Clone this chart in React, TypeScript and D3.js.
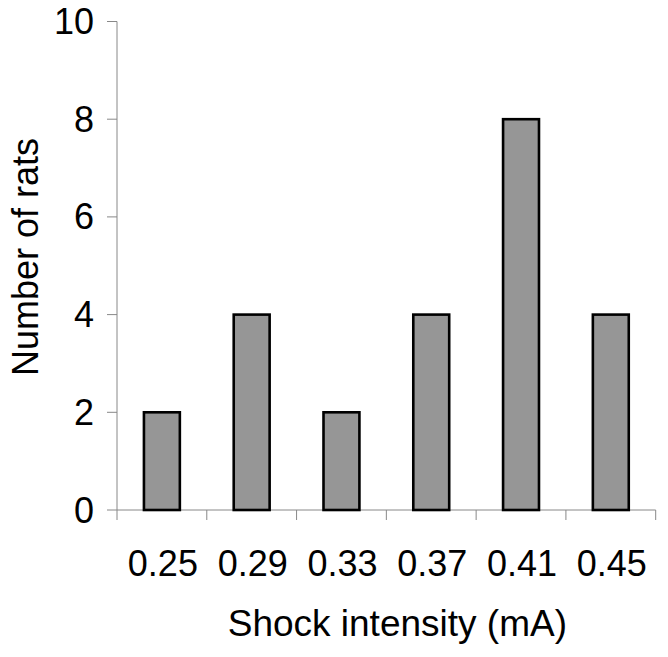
import React from "react";
import * as d3 from "d3";

const categories = ["0.25", "0.29", "0.33", "0.37", "0.41", "0.45"];
const counts = [2, 4, 2, 4, 8, 4];
const yTicks = [0, 2, 4, 6, 8, 10];

export default function App() {
  const W = 668, H = 657;
  const left = 117, right = 655.7, top = 21.5, bottom = 510;
  const x = d3.scaleBand<string>().domain(categories).range([left, right]).paddingInner(0.6).paddingOuter(0.3);
  const y = d3.scaleLinear().domain([0, 10]).range([bottom, top]);
  const step = x.step();
  const font = "Liberation Sans, Arial, sans-serif";
  return (
    <svg width={W} height={H} style={{ position: "absolute", left: 0, top: 0, background: "#fff" }}>
      <rect x={0} y={0} width={W} height={H} fill="#fff" />
      {/* axes */}
      <line x1={left} x2={left} y1={top} y2={bottom} stroke="#888" strokeWidth={1} />
      <line x1={left} x2={right} y1={bottom} y2={bottom} stroke="#888" strokeWidth={1} />
      {yTicks.map((t) => (
        <g key={t}>
          <line x1={left - 10} x2={left} y1={y(t)} y2={y(t)} stroke="#888" strokeWidth={1} />
          <text x={94} y={y(t) + 12.5} textAnchor="end" fontFamily={font} fontSize={36} fill="#000">{t}</text>
        </g>
      ))}
      {d3.range(categories.length + 1).map((i) => (
        <line key={i} x1={left + i * step} x2={left + i * step} y1={bottom} y2={bottom + 10} stroke="#888" strokeWidth={1} />
      ))}
      {categories.map((c, i) => (
        <rect key={c} x={x(c)!} y={y(counts[i])} width={x.bandwidth()} height={bottom - y(counts[i])}
          fill="#969696" stroke="#000" strokeWidth={2.6} />
      ))}
      {categories.map((c) => (
        <text key={c} x={x(c)! + x.bandwidth() / 2 + 1} y={576} textAnchor="middle" fontFamily={font} fontSize={36} fill="#000">{c}</text>
      ))}
      <text x={(left + right) / 2 + 11} y={636} textAnchor="middle" fontFamily={font} fontSize={37} fill="#000">Shock intensity (mA)</text>
      <text transform={`translate(37.5, 257) rotate(-90)`} textAnchor="middle" fontFamily={font} fontSize={36} fill="#000">Number of rats</text>
    </svg>
  );
}
